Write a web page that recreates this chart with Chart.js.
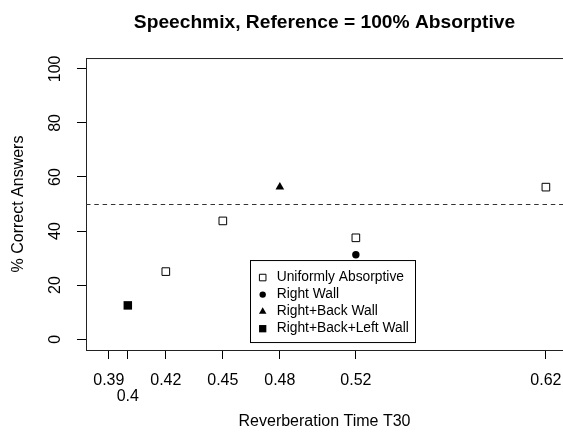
<!DOCTYPE html>
<html>
<head>
<meta charset="utf-8">
<script src="https://cdn.jsdelivr.net/npm/chart.js@4.4.1/dist/chart.umd.min.js"></script>
<style>
  html, body { margin: 0; padding: 0; background: #fff; }
  #wrap { width: 563px; height: 432px; }
</style>
</head>
<body>
<div id="wrap"><canvas id="chart" width="563" height="432"></canvas></div>
<script>
// values
const uniformX = [0.42, 0.45, 0.52, 0.62];
const uniformY = [25, 43.75, 37.5, 56.25];
const rightWallX = [0.52];
const rightWallY = [31.25];
const rightBackX = [0.48];
const rightBackY = [56.25];
const rightBackLeftX = [0.40];
const rightBackLeftY = [12.5];

const xTicks = [0.39, 0.40, 0.42, 0.45, 0.48, 0.52, 0.62];
const xTickLabels = ["0.39", "0.4", "0.42", "0.45", "0.48", "0.52", "0.62"];
const loweredLabels = ["0.4"]; // drawn on a second row, as in the original
const yTicks = [0, 20, 40, 60, 80, 100];
const yTickLabels = ["0", "20", "40", "60", "80", "100"];
const referenceLevel = 50;

const FONT = "'Liberation Sans', Arial, Helvetica, sans-serif";

function toPoints(xs, ys) {
  return xs.map((x, i) => ({ x: x, y: ys[i] }));
}

// rotated y tick labels, dashed 50% line, top frame line, legend box
const rStyle = {
  id: "rStyle",
  beforeDatasetsDraw(chart) {
    const { ctx, chartArea: a, scales } = chart;
    const y = scales.y.getPixelForValue(referenceLevel);
    ctx.save();
    ctx.strokeStyle = "#333";
    ctx.lineWidth = 1;
    ctx.setLineDash([4.5, 3.8]);
    ctx.beginPath();
    ctx.moveTo(a.left, Math.round(y) + 0.5);
    ctx.lineTo(a.right, Math.round(y) + 0.5);
    ctx.stroke();
    ctx.restore();
  },
  afterDraw(chart) {
    const { ctx, chartArea: a, scales } = chart;
    ctx.save();
    ctx.strokeStyle = "#222";
    ctx.lineWidth = 1;
    ctx.beginPath();
    ctx.moveTo(a.left, a.top + 0.5);
    ctx.lineTo(a.right, a.top + 0.5);
    ctx.stroke();

    ctx.fillStyle = "#000";
    ctx.font = "16px " + FONT;
    ctx.textAlign = "center";
    ctx.textBaseline = "alphabetic";
    scales.y.ticks.forEach((t, i) => {
      const py = scales.y.getPixelForValue(t.value);
      ctx.save();
      ctx.translate(a.left - 26.5, py);
      ctx.rotate(-Math.PI / 2);
      ctx.fillText(yTickLabels[i], 0, 0);
      ctx.restore();
    });

    // legend
    const lx = a.left + 164, ly = a.top + 202;
    ctx.strokeStyle = "#000";
    ctx.strokeRect(lx + 0.5, ly + 0.5, 165, 82);
    ctx.font = "13.8px " + FONT;
    ctx.textAlign = "left";
    ctx.textBaseline = "middle";
    chart.data.datasets.forEach((ds, i) => {
      const cy = ly + 17.5 + i * 17.05;
      ctx.fillStyle = ds.backgroundColor;
      ctx.strokeStyle = ds.borderColor;
      Chart.helpers.drawPoint(ctx, {
        pointStyle: ds.pointStyle,
        rotation: 0,
        radius: ds.pointRadius * 0.86,
        borderWidth: ds.borderWidth
      }, lx + 12.7, cy);
      ctx.fillStyle = "#000";
      ctx.fillText(ds.label, lx + 26.7, cy);
    });
    ctx.restore();
  }
};

new Chart(document.getElementById("chart"), {
  type: "scatter",
  data: {
    datasets: [
      {
        label: "Uniformly Absorptive",
        data: toPoints(uniformX, uniformY),
        pointStyle: "rect",
        pointRadius: 5.4,
        backgroundColor: "#fff",
        borderColor: "#000",
        borderWidth: 1
      },
      {
        label: "Right Wall",
        data: toPoints(rightWallX, rightWallY),
        pointStyle: "circle",
        pointRadius: 3.7,
        backgroundColor: "#000",
        borderColor: "#000",
        borderWidth: 0
      },
      {
        label: "Right+Back Wall",
        data: toPoints(rightBackX, rightBackY),
        pointStyle: "triangle",
        pointRadius: 5,
        backgroundColor: "#000",
        borderColor: "#000",
        borderWidth: 0
      },
      {
        label: "Right+Back+Left Wall",
        data: toPoints(rightBackLeftX, rightBackLeftY),
        pointStyle: "rect",
        pointRadius: 6,
        backgroundColor: "#000",
        borderColor: "#000",
        borderWidth: 0
      }
    ]
  },
  options: {
    responsive: false,
    animation: false,
    events: [],
    layout: { padding: 0, autoPadding: false },
    plugins: {
      legend: { display: false },
      tooltip: { enabled: false },
      title: {
        display: true,
        text: "Speechmix, Reference = 100% Absorptive",
        fullSize: false,
        color: "#000",
        font: { family: FONT, size: 19.2, weight: "bold", lineHeight: 1.2 },
        padding: { top: 11.5, bottom: 23.5 }
      }
    },
    scales: {
      x: {
        type: "linear",
        min: 0.378,
        max: 0.629,
        afterBuildTicks: (s) => { s.ticks = xTicks.map((v) => ({ value: v })); },
        afterFit: (s) => {
          s.height = 82;
          s.paddingLeft = 0;
          s.paddingRight = 0;
        },
        grid: { drawOnChartArea: false, drawTicks: true, tickLength: 9, color: "#000" },
        border: { display: true, color: "#222", width: 1 },
        ticks: {
          autoSkip: false,
          maxRotation: 0,
          minRotation: 0,
          padding: 13.5,
          color: "#000",
          font: { family: FONT, size: 16, lineHeight: 1.0 },
          callback: (v, i) => {
            const lbl = xTickLabels[i];
            return loweredLabels.includes(lbl) ? ["", lbl] : lbl;
          }
        },
        title: {
          display: true,
          text: "Reverberation Time T30",
          color: "#000",
          font: { family: FONT, size: 16, lineHeight: 1.2 },
          padding: { top: 0, bottom: 0.5 }
        }
      },
      y: {
        type: "linear",
        min: -4,
        max: 104,
        afterBuildTicks: (s) => { s.ticks = yTicks.map((v) => ({ value: v })); },
        afterFit: (s) => {
          s.width = 86;
          s.paddingTop = 0;
          s.paddingBottom = 0;
        },
        grid: { drawOnChartArea: false, drawTicks: true, tickLength: 9, color: "#000" },
        border: { display: true, color: "#222", width: 1 },
        ticks: { display: false },
        title: {
          display: true,
          text: "% Correct Answers",
          color: "#000",
          font: { family: FONT, size: 16, lineHeight: 1.2 },
          padding: { top: 9, bottom: 0 }
        }
      }
    }
  },
  plugins: [rStyle]
});
</script>
</body>
</html>
